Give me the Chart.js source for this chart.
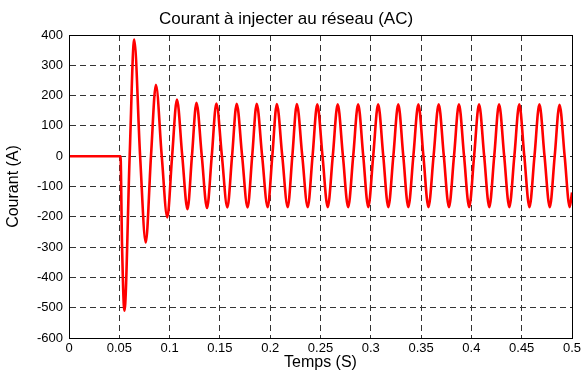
<!DOCTYPE html>
<html lang="fr">
<head>
    <meta charset="UTF-8">
    <title>Courant à injecter au réseau (AC)</title>
    <script src="https://cdn.jsdelivr.net/npm/chart.js"></script>
    <style>
        html, body { margin: 0; padding: 0; background: #fff; }
        #wrap { width: 585px; height: 374px; }
    </style>
</head>
<body>
    <div id="wrap">
        <canvas id="courantChart" width="585" height="374"></canvas>
    </div>

    <script>
        // Valeurs : temps (s) et courant (A)
        const tempsS = [
            0, 0.0512, 0.0527, 0.0551, 0.0603, 0.0648, 0.0707, 0.0763, 0.0815, 0.0864,
            0.0922, 0.0977, 0.1025, 0.1073, 0.1126, 0.1178, 0.1222,
            0.1267, 0.1320, 0.1372, 0.1419, 0.1465, 0.1520, 0.1574, 0.1621,
            0.1667, 0.1721, 0.1775, 0.1821, 0.1866, 0.1920, 0.1975, 0.2021,
            0.2066, 0.2120, 0.2174, 0.2220, 0.2265, 0.2319, 0.2373, 0.2421,
            0.2468, 0.2520, 0.2572, 0.2622, 0.2671, 0.2723, 0.2775, 0.2825,
            0.2874, 0.2925, 0.2975, 0.3024, 0.3073, 0.3124, 0.3174, 0.3224,
            0.3273, 0.3323, 0.3373, 0.3423, 0.3473, 0.3523, 0.3573, 0.3624,
            0.3675, 0.3726, 0.3777, 0.3827, 0.3876, 0.3927, 0.3978, 0.4027,
            0.4076, 0.4127, 0.4178, 0.4227, 0.4275, 0.4326, 0.4377, 0.4427,
            0.4476, 0.4526, 0.4577, 0.4627, 0.4676, 0.4727, 0.4779, 0.4828,
            0.4876, 0.4927, 0.4977, 0.5000
        ];
        const courantA = [
            0, 0, -290, -510, 0, 385, 0, -285, 0, 236,
            0, -202, 0, 187, 0, -175, 0,
            176, 0, -171, 0, 174, 0, -169, 0,
            173, 0, -169, 0, 173, 0, -168, 0,
            172, 0, -168, 0, 172, 0, -168, 0,
            171, 0, -168, 0, 171, 0, -168, 0,
            171, 0, -168, 0, 171, 0, -168, 0,
            171, 0, -168, 0, 171, 0, -168, 0,
            171, 0, -168, 0, 171, 0, -168, 0,
            171, 0, -168, 0, 171, 0, -168, 0,
            171, 0, -168, 0, 171, 0, -168, 0,
            170, 0, -168, -120
        ];
        const xTickLabels = ['0', '0.05', '0.1', '0.15', '0.2', '0.25', '0.3', '0.35', '0.4', '0.45', '0.5'];
        const yTickLabels = ['-600', '-500', '-400', '-300', '-200', '-100', '0', '100', '200', '300', '400'];

        const police = "'Liberation Sans', Arial, sans-serif";

        // Cadre noir autour de la zone de tracé (style MATLAB)
        const cadrePlugin = {
            id: 'cadre',
            afterDatasetsDraw(chart) {
                const { ctx, chartArea: a } = chart;
                ctx.save();
                ctx.strokeStyle = '#000';
                ctx.lineWidth = 1;
                ctx.setLineDash([]);
                ctx.strokeRect(Math.round(a.left) + 0.5, Math.round(a.top) + 0.5,
                    Math.round(a.right - a.left), Math.round(a.bottom - a.top));
                ctx.restore();
            }
        };

        const points = tempsS.map((t, i) => ({ x: t, y: courantA[i] }));

        const ctx = document.getElementById('courantChart').getContext('2d');
        new Chart(ctx, {
            type: 'line',
            data: {
                datasets: [{
                    label: 'Courant',
                    data: points,
                    borderColor: '#ff0000',
                    borderWidth: 2.6,
                    pointRadius: 0,
                    cubicInterpolationMode: 'monotone',
                    borderJoinStyle: 'round',
                    fill: false
                }]
            },
            options: {
                responsive: false,
                animation: false,
                devicePixelRatio: 1,
                layout: { padding: { left: 0, right: 13, top: 0, bottom: 0 } },
                plugins: {
                    legend: { display: false },
                    tooltip: { enabled: false },
                    title: {
                        display: true,
                        text: 'Courant à injecter au réseau (AC)',
                        color: '#000',
                        font: { family: police, size: 17, weight: 'normal' },
                        padding: { top: 9, bottom: 5.6 }
                    }
                },
                scales: {
                    x: {
                        type: 'linear',
                        min: 0,
                        max: 0.5,
                        afterFit: (scale) => { scale.height = 36; },
                        ticks: {
                            stepSize: 0.05,
                            autoSkip: false,
                            maxRotation: 0,
                            padding: 3,
                            color: '#000',
                            font: { family: police, size: 13 },
                            callback: (v, i) => xTickLabels[i]
                        },
                        grid: { color: '#333', lineWidth: 1, drawTicks: false },
                        border: { display: true, color: '#000', dash: [6, 4] },
                        title: {
                            display: true,
                            text: 'Temps (S)',
                            color: '#000',
                            font: { family: police, size: 16 },
                            padding: { top: 0, bottom: 2 }
                        }
                    },
                    y: {
                        min: -600,
                        max: 400,
                        afterFit: (scale) => { scale.width = 69; },
                        ticks: {
                            stepSize: 100,
                            autoSkip: false,
                            padding: 6,
                            color: '#000',
                            font: { family: police, size: 13 },
                            callback: (v, i) => yTickLabels[i]
                        },
                        grid: { color: '#333', lineWidth: 1, drawTicks: false },
                        border: { display: true, color: '#000', dash: [6, 4] },
                        title: {
                            display: true,
                            text: 'Courant (A)',
                            color: '#000',
                            font: { family: police, size: 16 },
                            padding: { top: 4, bottom: 0 }
                        }
                    }
                }
            },
            plugins: [cadrePlugin]
        });
    </script>
</body>
</html>
